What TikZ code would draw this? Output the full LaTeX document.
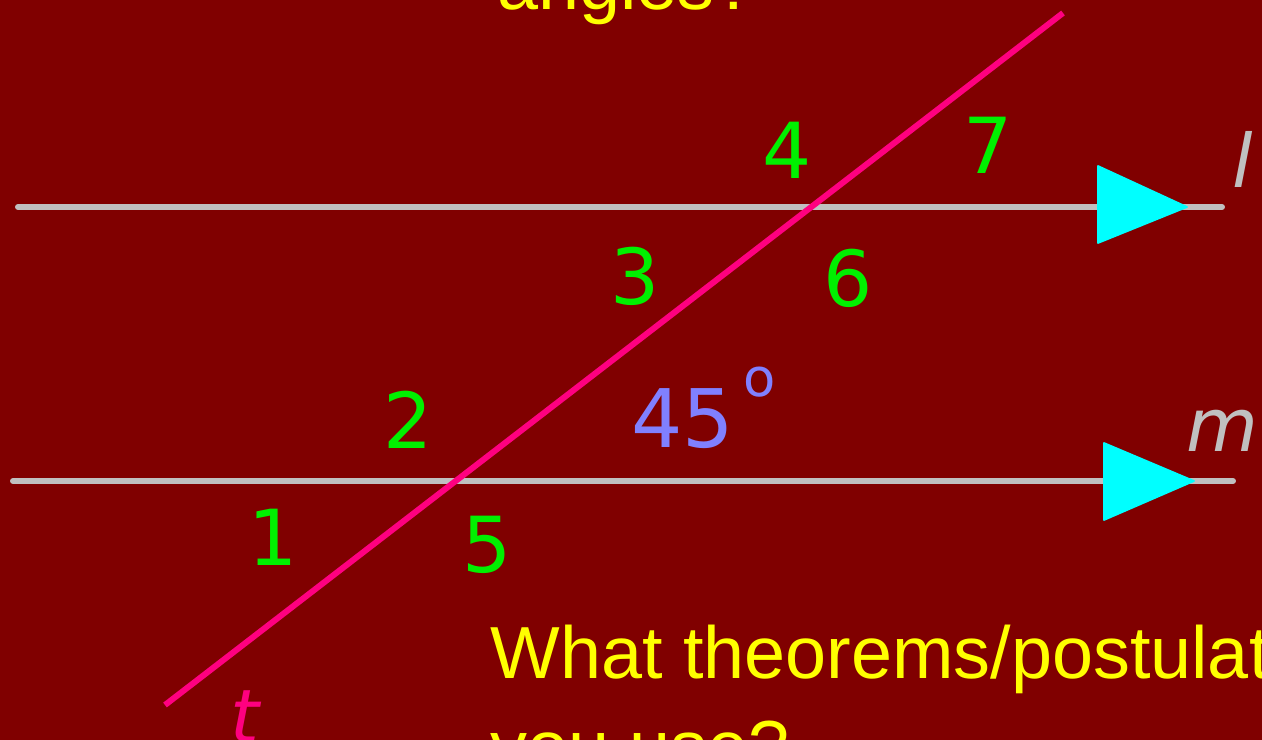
\documentclass[tikz,border=0pt]{standalone}
\usepackage{fontspec}
\setmainfont{Liberation Sans}
\newfontfamily\labfont{DejaVu Sans}
\definecolor{slidebg}{RGB}{128,0,0}
\definecolor{linegray}{RGB}{192,192,192}
\definecolor{transpink}{RGB}{255,0,128}
\definecolor{anglegreen}{RGB}{0,240,0}
\definecolor{degblue}{RGB}{128,128,255}
\definecolor{headcyan}{RGB}{0,255,255}
\definecolor{textyellow}{RGB}{255,255,0}

\begin{document}
\begin{tikzpicture}[x=0.02cm,y=-0.02cm,
    parline/.style={linegray,line width=3.4pt,line cap=round},
    transline/.style={transpink,line width=3.4pt},
    headtri/.style={fill=headcyan,draw=headcyan,line join=round,line width=1pt},
    angnum/.style={anglegreen,inner sep=0pt,font=\labfont\fontsize{44}{44}\selectfont},
    linename/.style={inner sep=0pt,anchor=base west,font=\labfont\itshape\fontsize{42}{42}\selectfont},
    slidetext/.style={textyellow,inner sep=0pt,anchor=base west,font=\fontsize{42}{50}\selectfont}]
    \useasboundingbox (0,0) rectangle (1262,740);
    \clip (0,0) rectangle (1262,740);
    \fill [slidebg] (0,0) rectangle (1262,740);

    % parallel lines l and m
    \coordinate (L1) at (18,207);
    \coordinate (L2) at (1222,207);
    \coordinate (M1) at (13,481);
    \coordinate (M2) at (1233,481);
    \draw [parline] (L1)--(L2);
    \draw [parline] (M1)--(M2);
    \fill [headtri] (1098,166)--(1187,207)--(1098,243)--cycle;
    \fill [headtri] (1104,443)--(1194,481)--(1104,520)--cycle;

    % transversal t
    \coordinate (T1) at (165,705);
    \coordinate (T2) at (1063,13);
    \draw [transline] (T1)--(T2);

    \node [linename,linegray] (nl) at (1232,188) {l};
    \node [linename,linegray] (nm) at (1186,451) {m};
    \node [linename,transpink] (nt) at (230,742) {t};

    % angle numbers
    \node [angnum] (A1) at (273,537) {1};
    \node [angnum] (A2) at (408,420) {2};
    \node [angnum] (A3) at (635,276) {3};
    \node [angnum] (A4) at (787,150) {4};
    \node [angnum] (A5) at (487,545) {5};
    \node [angnum] (A6) at (848,278) {6};
    \node [angnum] (A7) at (988,145) {7};
    \node [angnum,degblue,anchor=base west,font=\labfont\fontsize{46}{46}\selectfont] (deg) at (631,447)
        {45\hspace{0.12em}\raisebox{0.62em}{\fontsize{30}{30}\selectfont o}};

    \node [slidetext] (q1) at (497,10) {angles?};
    \node [slidetext] (q2) at (490,678) {What theorems/postulates do};
    \node [slidetext] (q3) at (490,772) {you use?};
\end{tikzpicture}
\end{document}
